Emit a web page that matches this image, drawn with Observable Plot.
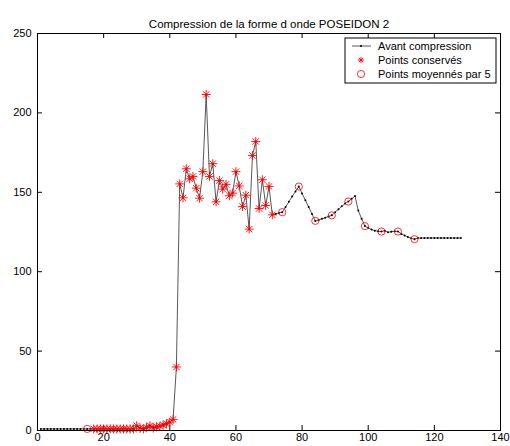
<!DOCTYPE html>
<html><head><meta charset="utf-8">
<script src="https://cdn.jsdelivr.net/npm/d3@7"></script>
<script src="https://cdn.jsdelivr.net/npm/@observablehq/plot@0.6"></script>
<style>body{margin:0;background:#fff;} #chart{position:relative;width:510px;height:446px;}</style>
</head><body><div id="chart"></div>
<script>
const title = "Compression de la forme d onde POSEIDON 2";
const legendLabels = ["Avant compression", "Points conservés", "Points moyennés par 5"];
const xTicks = [0, 20, 40, 60, 80, 100, 120, 140];
const yTicks = [0, 50, 100, 150, 200, 250];
// signal value at sample 1..128
const values = [
  1,1,1,1,1,1,1,1,1,1,
  1,1,1,1,1,1,1,1,1,1,
  1,1,1,1,1,1,1,1,1,3,
  1.5,1,2,3,1.5,2.5,2.7,3.5,4.2,5.3,
  7,40,155.3,146.5,164.8,158.5,160,152.6,146.3,163,
  211.6,160,168,144,157.4,152,155,147.8,149.5,163,
  154,141,148.2,126.8,173.2,182,139.8,157.9,141.7,153.7,
  135.8,136.4,137,137.5,140.7,144,147.3,150.5,153.6,149.3,
  145,140.7,136.3,132,132.5,133.3,134,134.8,135.5,137.5,
  139.3,141.2,142.9,144.2,145.9,147.6,138.5,133.3,128.7,127.6,
  126.5,125.8,125.5,125.3,125.8,124.8,125.2,125.5,125.3,123.8,
  122.8,121.8,121,120.5,121.2,121.2,121.2,121.2,121.2,121.2,
  121.2,121.2,121.2,121.2,121.2,121.2,121.2,121.2
];
// samples kept (stars)
const keptSamples = [17,18,19,20,21,22,23,24,25,26,27,28,29,30,31,32,33,34,35,36,37,38,39,40,41,42,
  43,44,45,46,47,48,49,50,51,52,53,54,55,56,57,58,59,60,61,62,63,64,65,66,67,68,69,70,71];
// samples averaged by 5 (circles)
const averagedSamples = [15,74,79,84,89,94,99,104,109,114];

const signal = values.map((v, i) => ({x: i + 1, y: v}));
const kept = keptSamples.map(s => signal[s - 1]);
const averaged = averagedSamples.map(s => signal[s - 1]);

const W = 510, H = 446, mL = 37, mR = 10, mT = 33, mB = 16;
const innerW = W - mL - mR, innerH = H - mT - mB;
const tick = 5;

const svg = Plot.plot({
  width: W, height: H,
  marginLeft: mL, marginRight: mR, marginTop: mT, marginBottom: mB,
  style: {fontFamily: "'Liberation Sans', Arial, sans-serif", fontSize: "11px", background: "#fff", color: "#000"},
  x: {domain: [0, 140]},
  y: {domain: [0, 250]},
  marks: [
    Plot.tickX(xTicks, {x: d => d, insetTop: innerH - tick, stroke: "black"}),
    Plot.tickX(xTicks, {x: d => d, insetBottom: innerH - tick, stroke: "black"}),
    Plot.tickY(yTicks, {y: d => d, insetRight: innerW - tick, stroke: "black"}),
    Plot.tickY(yTicks, {y: d => d, insetLeft: innerW - tick, stroke: "black"}),
    Plot.axisX({ticks: xTicks, tickSize: 0, tickPadding: 3, label: null, fontSize: 11}),
    Plot.axisY({ticks: yTicks, tickSize: 0, tickPadding: 6, label: null, fontSize: 11}),
    Plot.line(signal, {x: "x", y: "y", stroke: "#444", strokeWidth: 0.9}),
    Plot.dot(signal, {x: "x", y: "y", r: 1, fill: "black", stroke: "none"}),
    Plot.dot(kept, {x: "x", y: "y", symbol: "plus", r: 3, stroke: "red", strokeWidth: 0.9}),
    Plot.dot(kept, {x: "x", y: "y", symbol: "times", r: 3, stroke: "red", strokeWidth: 0.9}),
    Plot.dot(averaged, {x: "x", y: "y", r: 3.6, stroke: "red", fill: "none", strokeWidth: 0.8}),
    Plot.frame({stroke: "black"}),
    Plot.text([title], {text: d => d, frameAnchor: "top", dy: -14, fontSize: 11.5})
  ]
});

// legend box (top-right, inside axes)
const g = d3.select(svg).append("g")
  .attr("font-size", 11)
  .attr("font-family", "'Liberation Sans', Arial, sans-serif")
  .attr("text-anchor", "start");
const lx = 345, ly = 38, lw = 151, lh = 45;
g.append("rect").attr("x", lx).attr("y", ly).attr("width", lw).attr("height", lh)
  .attr("fill", "white").attr("stroke", "black");
const rowY = [46, 60, 74];
const symX = 361;
legendLabels.forEach((lab, i) => {
  const y = rowY[i];
  if (i === 0) {
    g.append("line").attr("x1", 352).attr("x2", 371).attr("y1", y).attr("y2", y).attr("stroke", "#444").attr("stroke-width", 0.9);
    g.append("circle").attr("cx", symX).attr("cy", y).attr("r", 1).attr("fill", "black");
  } else if (i === 1) {
    const p = d3.path();
    const r = 3, d = r * 0.72;
    p.moveTo(symX - r, y); p.lineTo(symX + r, y);
    p.moveTo(symX, y - r); p.lineTo(symX, y + r);
    p.moveTo(symX - d, y - d); p.lineTo(symX + d, y + d);
    p.moveTo(symX - d, y + d); p.lineTo(symX + d, y - d);
    g.append("path").attr("d", p.toString()).attr("stroke", "red").attr("stroke-width", 0.9).attr("fill", "none");
  } else {
    g.append("circle").attr("cx", symX).attr("cy", y).attr("r", 3.6).attr("fill", "none").attr("stroke", "red").attr("stroke-width", 0.8);
  }
  g.append("text").attr("x", 378).attr("y", y).attr("dy", "0.35em").attr("text-anchor", "start").text(lab);
});

document.getElementById("chart").appendChild(svg);
</script>
</body></html>
